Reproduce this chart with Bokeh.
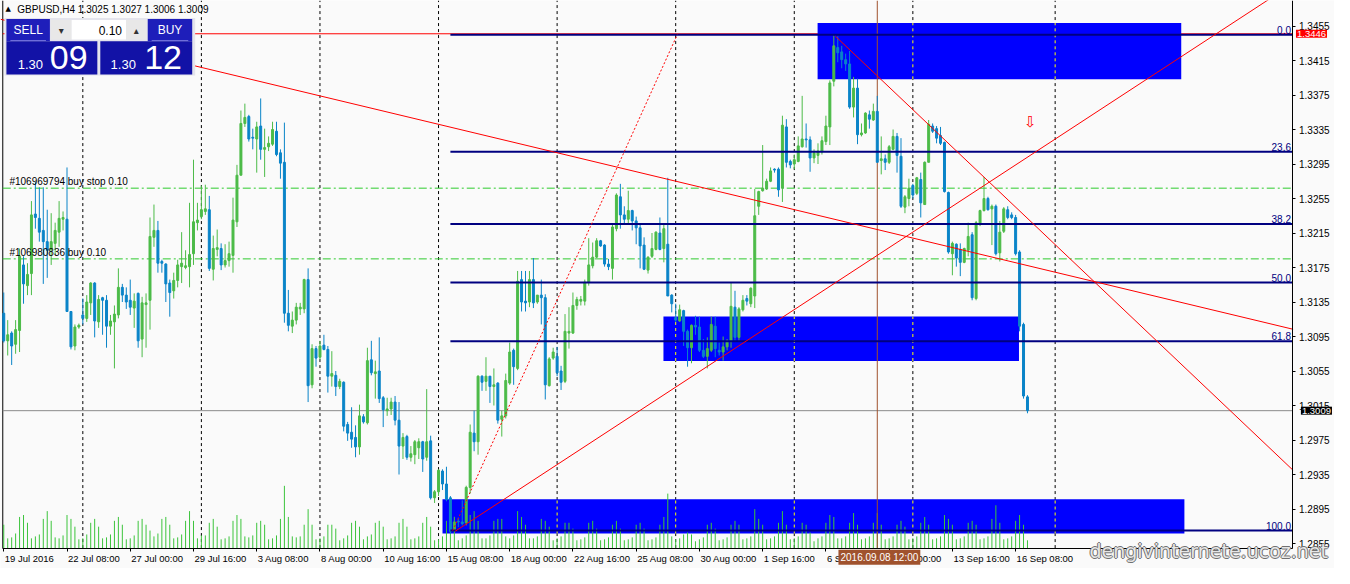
from bokeh.plotting import figure
from bokeh.models import Range1d, FixedTicker, Label, ColumnDataSource, PrintfTickFormatter, LinearAxis
from bokeh.core.properties import value
from bokeh.embed import file_html
from bokeh.resources import INLINE

# ---------------- data (GBPUSD H4, bar index 0 = 19 Jul 2016 16:00) ----------------
opens = [1.3122, 1.3090, 1.3099, 1.3086, 1.3102, 1.3178, 1.3154, 1.3168, 1.3237, 1.3232,
         1.3218, 1.3205, 1.3196, 1.3203, 1.3216, 1.3231, 1.3231, 1.3124, 1.3084, 1.3106,
         1.3120, 1.3116, 1.3134, 1.3157, 1.3112, 1.3140, 1.3137, 1.3107, 1.3112, 1.3120,
         1.3152, 1.3143, 1.3137, 1.3128, 1.3145, 1.3092, 1.3132, 1.3137, 1.3210, 1.3218,
         1.3182, 1.3179, 1.3157, 1.3148, 1.3160, 1.3176, 1.3175, 1.3176, 1.3191, 1.3227,
         1.3234, 1.3240, 1.3242, 1.3173, 1.3196, 1.3197, 1.3178, 1.3183, 1.3189, 1.3228,
         1.3282, 1.3342, 1.3350, 1.3326, 1.3324, 1.3339, 1.3312, 1.3315, 1.3318, 1.3333,
         1.3308, 1.3297, 1.3122, 1.3107, 1.3114, 1.3127, 1.3127, 1.3161, 1.3039, 1.3081,
         1.3071, 1.3085, 1.3080, 1.3049, 1.3050, 1.3037, 1.3042, 1.2993, 1.2984, 1.2978,
         1.2967, 1.3002, 1.2995, 1.3068, 1.3052, 1.3055, 1.3024, 1.3009, 1.3011, 1.3019,
         1.2998, 1.2968, 1.2979, 1.2955, 1.2958, 1.2966, 1.2973, 1.2955, 1.2974, 1.2908,
         1.2915, 1.2939, 1.2924, 1.2908, 1.2870, 1.2881, 1.2880, 1.2879, 1.2920, 1.2983,
         1.2973, 1.3049, 1.3043, 1.3049, 1.3037, 1.3041, 1.2999, 1.3003, 1.3041, 1.3079,
         1.3058, 1.3161, 1.3136, 1.3135, 1.3161, 1.3135, 1.3143, 1.3140, 1.3038, 1.3070,
         1.3072, 1.3055, 1.3043, 1.3099, 1.3099, 1.3131, 1.3136, 1.3136, 1.3158, 1.3177,
         1.3187, 1.3206, 1.3201, 1.3179, 1.3174, 1.3220, 1.3257, 1.3236, 1.3231, 1.3241,
         1.3229, 1.3221, 1.3201, 1.3172, 1.3188, 1.3196, 1.3215, 1.3197, 1.3202, 1.3143,
         1.3117, 1.3113, 1.3125, 1.3101, 1.3082, 1.3108, 1.3106, 1.3079, 1.3072, 1.3079,
         1.3107, 1.3079, 1.3077, 1.3083, 1.3089, 1.3129, 1.3094, 1.3126, 1.3139, 1.3133,
         1.3142, 1.3246, 1.3264, 1.3266, 1.3275, 1.3289, 1.3289, 1.3267, 1.3338, 1.3298,
         1.3295, 1.3298, 1.3315, 1.3324, 1.3323, 1.3302, 1.3305, 1.3309, 1.3321, 1.3338,
         1.3391, 1.3430, 1.3425, 1.3416, 1.3411, 1.3361, 1.3383, 1.3329, 1.3331, 1.3352,
         1.3346, 1.3356, 1.3299, 1.3301, 1.3297, 1.3312, 1.3327, 1.3304, 1.3245, 1.3255,
         1.3270, 1.3261, 1.3277, 1.3248, 1.3297, 1.3339, 1.3336, 1.3328, 1.3320, 1.3262,
         1.3191, 1.3202, 1.3196, 1.3181, 1.3195, 1.3213, 1.3139, 1.3225, 1.3241, 1.3255,
         1.3243, 1.3246, 1.3192, 1.3217, 1.3242, 1.3236, 1.3233, 1.3193, 1.3109, 1.3025]
highs = [1.3146, 1.3114, 1.3101, 1.3114, 1.3197, 1.3188, 1.3180, 1.3252, 1.3274, 1.3268,
         1.3268, 1.3242, 1.3238, 1.3227, 1.3252, 1.3240, 1.3291, 1.3124, 1.3109, 1.3110,
         1.3139, 1.3143, 1.3158, 1.3158, 1.3143, 1.3141, 1.3143, 1.3120, 1.3131, 1.3174,
         1.3156, 1.3152, 1.3161, 1.3145, 1.3146, 1.3141, 1.3145, 1.3233, 1.3248, 1.3229,
         1.3184, 1.3180, 1.3161, 1.3169, 1.3184, 1.3216, 1.3195, 1.3250, 1.3300, 1.3250,
         1.3270, 1.3271, 1.3258, 1.3212, 1.3219, 1.3203, 1.3202, 1.3205, 1.3256, 1.3294,
         1.3357, 1.3365, 1.3352, 1.3336, 1.3344, 1.3371, 1.3336, 1.3327, 1.3344, 1.3344,
         1.3312, 1.3343, 1.3149, 1.3124, 1.3134, 1.3134, 1.3162, 1.3174, 1.3086, 1.3084,
         1.3090, 1.3097, 1.3084, 1.3078, 1.3055, 1.3046, 1.3043, 1.2996, 1.3013, 1.2992,
         1.3016, 1.3005, 1.3082, 1.3090, 1.3067, 1.3094, 1.3026, 1.3024, 1.3024, 1.3026,
         1.3019, 1.2983, 1.2981, 1.2968, 1.2975, 1.2977, 1.2974, 1.3034, 1.2980, 1.2917,
         1.2941, 1.2941, 1.2944, 1.2910, 1.2886, 1.2885, 1.2905, 1.2922, 1.2993, 1.3009,
         1.3050, 1.3050, 1.3071, 1.3049, 1.3058, 1.3042, 1.3009, 1.3052, 1.3088, 1.3081,
         1.3171, 1.3171, 1.3171, 1.3171, 1.3186, 1.3143, 1.3161, 1.3144, 1.3071, 1.3082,
         1.3083, 1.3061, 1.3121, 1.3129, 1.3146, 1.3141, 1.3142, 1.3161, 1.3209, 1.3204,
         1.3209, 1.3207, 1.3202, 1.3185, 1.3225, 1.3261, 1.3272, 1.3246, 1.3264, 1.3242,
         1.3234, 1.3225, 1.3210, 1.3188, 1.3215, 1.3217, 1.3233, 1.3225, 1.3279, 1.3144,
         1.3133, 1.3132, 1.3126, 1.3103, 1.3109, 1.3119, 1.3118, 1.3092, 1.3094, 1.3118,
         1.3118, 1.3088, 1.3095, 1.3092, 1.3158, 1.3148, 1.3129, 1.3143, 1.3143, 1.3152,
         1.3266, 1.3264, 1.3317, 1.3278, 1.3291, 1.3290, 1.3291, 1.3351, 1.3347, 1.3300,
         1.3306, 1.3327, 1.3374, 1.3342, 1.3327, 1.3312, 1.3319, 1.3327, 1.3351, 1.3392,
         1.3444, 1.3443, 1.3432, 1.3423, 1.3426, 1.3396, 1.3394, 1.3342, 1.3355, 1.3357,
         1.3365, 1.3374, 1.3327, 1.3306, 1.3317, 1.3335, 1.3331, 1.3325, 1.3259, 1.3278,
         1.3272, 1.3280, 1.3285, 1.3298, 1.3346, 1.3342, 1.3339, 1.3338, 1.3321, 1.3263,
         1.3205, 1.3203, 1.3203, 1.3198, 1.3227, 1.3216, 1.3229, 1.3242, 1.3280, 1.3257,
         1.3248, 1.3248, 1.3229, 1.3245, 1.3246, 1.3239, 1.3236, 1.3195, 1.3111, 1.3027]
lows = [1.3088, 1.3073, 1.3062, 1.3075, 1.3077, 1.3133, 1.3143, 1.3143, 1.3220, 1.3205,
        1.3156, 1.3163, 1.3178, 1.3190, 1.3199, 1.3218, 1.3124, 1.3080, 1.3079, 1.3104,
        1.3109, 1.3112, 1.3120, 1.3094, 1.3105, 1.3097, 1.3082, 1.3097, 1.3058, 1.3116,
        1.3135, 1.3127, 1.3120, 1.3105, 1.3082, 1.3071, 1.3082, 1.3103, 1.3199, 1.3169,
        1.3169, 1.3135, 1.3118, 1.3139, 1.3152, 1.3157, 1.3173, 1.3152, 1.3178, 1.3218,
        1.3231, 1.3236, 1.3171, 1.3160, 1.3188, 1.3172, 1.3175, 1.3176, 1.3169, 1.3222,
        1.3282, 1.3338, 1.3321, 1.3312, 1.3285, 1.3300, 1.3280, 1.3310, 1.3316, 1.3304,
        1.3278, 1.3111, 1.3101, 1.3099, 1.3109, 1.3120, 1.3122, 1.3019, 1.3035, 1.3060,
        1.3068, 1.3079, 1.3030, 1.3037, 1.3026, 1.3034, 1.2985, 1.2974, 1.2966, 1.2955,
        1.2958, 1.2994, 1.2993, 1.3050, 1.3023, 1.3018, 1.2990, 1.3003, 1.3004, 1.2992,
        1.2935, 1.2953, 1.2952, 1.2950, 1.2947, 1.2953, 1.2938, 1.2951, 1.2906, 1.2902,
        1.2910, 1.2917, 1.2904, 1.2866, 1.2868, 1.2874, 1.2876, 1.2876, 1.2913, 1.2962,
        1.2958, 1.3032, 1.3032, 1.3018, 1.3015, 1.2994, 1.2979, 1.3000, 1.3039, 1.3039,
        1.3056, 1.3124, 1.3124, 1.3129, 1.3128, 1.3133, 1.3109, 1.3022, 1.3037, 1.3068,
        1.3049, 1.3033, 1.3041, 1.3081, 1.3098, 1.3126, 1.3131, 1.3131, 1.3154, 1.3174,
        1.3186, 1.3199, 1.3176, 1.3172, 1.3161, 1.3217, 1.3220, 1.3225, 1.3226, 1.3218,
        1.3202, 1.3174, 1.3172, 1.3168, 1.3186, 1.3195, 1.3195, 1.3181, 1.3142, 1.3123,
        1.3112, 1.3112, 1.3084, 1.3060, 1.3064, 1.3097, 1.3077, 1.3070, 1.3058, 1.3077,
        1.3071, 1.3073, 1.3067, 1.3079, 1.3082, 1.3090, 1.3090, 1.3124, 1.3131, 1.3129,
        1.3128, 1.3236, 1.3263, 1.3265, 1.3274, 1.3285, 1.3257, 1.3251, 1.3291, 1.3290,
        1.3289, 1.3297, 1.3314, 1.3314, 1.3286, 1.3296, 1.3295, 1.3306, 1.3317, 1.3317,
        1.3385, 1.3413, 1.3406, 1.3403, 1.3359, 1.3349, 1.3318, 1.3327, 1.3330, 1.3336,
        1.3345, 1.3297, 1.3283, 1.3288, 1.3295, 1.3311, 1.3285, 1.3244, 1.3238, 1.3246,
        1.3255, 1.3259, 1.3233, 1.3248, 1.3297, 1.3331, 1.3319, 1.3317, 1.3262, 1.3191,
        1.3166, 1.3176, 1.3165, 1.3180, 1.3188, 1.3137, 1.3137, 1.3223, 1.3240, 1.3241,
        1.3201, 1.3189, 1.3182, 1.3215, 1.3231, 1.3231, 1.3189, 1.3101, 1.3023, 1.3006]
closes = [1.3090, 1.3097, 1.3084, 1.3103, 1.3188, 1.3156, 1.3167, 1.3236, 1.3233, 1.3216,
          1.3205, 1.3195, 1.3205, 1.3218, 1.3232, 1.3233, 1.3124, 1.3083, 1.3106, 1.3108,
          1.3116, 1.3135, 1.3157, 1.3113, 1.3138, 1.3137, 1.3107, 1.3113, 1.3121, 1.3152,
          1.3143, 1.3135, 1.3129, 1.3136, 1.3090, 1.3134, 1.3134, 1.3211, 1.3218, 1.3180,
          1.3180, 1.3156, 1.3146, 1.3160, 1.3178, 1.3180, 1.3177, 1.3190, 1.3228, 1.3230,
          1.3242, 1.3243, 1.3174, 1.3197, 1.3198, 1.3178, 1.3183, 1.3191, 1.3230, 1.3282,
          1.3342, 1.3349, 1.3324, 1.3325, 1.3338, 1.3312, 1.3314, 1.3319, 1.3335, 1.3306,
          1.3296, 1.3122, 1.3108, 1.3114, 1.3129, 1.3129, 1.3161, 1.3038, 1.3081, 1.3070,
          1.3084, 1.3080, 1.3049, 1.3052, 1.3037, 1.3043, 1.2991, 1.2983, 1.2976, 1.2967,
          1.3003, 1.2996, 1.3067, 1.3053, 1.3054, 1.3023, 1.3010, 1.3011, 1.3019, 1.2998,
          1.2968, 1.2978, 1.2955, 1.2959, 1.2973, 1.2973, 1.2953, 1.2973, 1.2908, 1.2915,
          1.2940, 1.2924, 1.2906, 1.2869, 1.2880, 1.2880, 1.2878, 1.2920, 1.2984, 1.2973,
          1.3049, 1.3042, 1.3049, 1.3037, 1.3039, 1.2998, 1.3003, 1.3044, 1.3077, 1.3060,
          1.3159, 1.3135, 1.3134, 1.3161, 1.3134, 1.3143, 1.3140, 1.3039, 1.3069, 1.3077,
          1.3053, 1.3042, 1.3101, 1.3101, 1.3131, 1.3138, 1.3138, 1.3158, 1.3178, 1.3187,
          1.3206, 1.3200, 1.3179, 1.3176, 1.3222, 1.3259, 1.3236, 1.3231, 1.3241, 1.3229,
          1.3221, 1.3200, 1.3173, 1.3187, 1.3197, 1.3216, 1.3196, 1.3220, 1.3142, 1.3133,
          1.3114, 1.3126, 1.3101, 1.3082, 1.3108, 1.3106, 1.3079, 1.3072, 1.3081, 1.3109,
          1.3081, 1.3077, 1.3083, 1.3090, 1.3130, 1.3094, 1.3127, 1.3137, 1.3136, 1.3151,
          1.3235, 1.3263, 1.3267, 1.3275, 1.3287, 1.3288, 1.3265, 1.3340, 1.3297, 1.3294,
          1.3300, 1.3316, 1.3324, 1.3323, 1.3302, 1.3308, 1.3310, 1.3322, 1.3339, 1.3389,
          1.3432, 1.3424, 1.3416, 1.3411, 1.3361, 1.3383, 1.3329, 1.3331, 1.3354, 1.3347,
          1.3356, 1.3297, 1.3301, 1.3297, 1.3315, 1.3327, 1.3305, 1.3246, 1.3257, 1.3267,
          1.3259, 1.3279, 1.3250, 1.3297, 1.3341, 1.3333, 1.3325, 1.3319, 1.3263, 1.3193,
          1.3203, 1.3186, 1.3181, 1.3197, 1.3211, 1.3140, 1.3227, 1.3241, 1.3255, 1.3242,
          1.3246, 1.3191, 1.3216, 1.3243, 1.3233, 1.3233, 1.3191, 1.3107, 1.3026, 1.3009]
volumes = [12000, 5000,
           5500, 7500, 16000, 17000, 13000, 5000,
           6000, 7000, 15000, 19000, 14000, 5500,
           5000, 6500, 17000, 15000, 11000, 4500,
           5000, 7000, 13000, 15000, 11000, 5000,
           5500, 7000, 14000, 16000, 12000, 4500,
           5000, 6500, 14000, 15000, 12000, 9000,
           6000, 7500, 15000, 16000, 12000, 5000,
           5500, 7000, 14000, 19000, 14000, 5000,
           6500, 6500, 13000, 15000, 11000, 4500,
           5000, 6000, 14000, 17000, 15000, 6000,
           5500, 6500, 13000, 14000, 12000, 4500,
           5000, 6500, 15000, 32000, 16000, 6000,
           5500, 6000, 12000, 20000, 12000, 4500,
           5000, 6000, 12000, 12000, 10000, 4000,
           5000, 6500, 13000, 14000, 11000, 4500,
           6000, 7000, 13000, 14000, 11000, 4500,
           5000, 6000, 13000, 15000, 11000, 4500,
           5000, 6000, 13000, 16000, 11000, 4000,
           4500, 6000, 14000, 14000, 10000, 4000,
           5000, 6500, 17000, 19000, 14000, 5000,
           5000, 6500, 14000, 15000, 15000, 6000,
           5000, 6500, 19000, 16000, 12000, 5000,
           5000, 6000, 15000, 14000, 11000, 4000,
           5000, 6000, 13000, 13000, 10000, 4000,
           4500, 5500, 13000, 14000, 10000, 4000,
           4500, 5500, 12000, 14000, 10000, 4000,
           4500, 5500, 12000, 13000, 10000, 4000,
           4500, 5500, 12000, 16000, 28000, 6000,
           4500, 5000, 7000, 8000, 7000, 3500,
           4500, 5500, 12000, 13000, 10000, 4000,
           4500, 5500, 12000, 14000, 12000, 4500,
           5000, 6000, 20000, 15000, 12000, 4500,
           5000, 6000, 13000, 19000, 12000, 4500,
           5000, 6000, 13000, 12000, 8000, 3500,
           5000, 6000, 13000, 17000, 16000, 5000,
           5000, 6000, 13000, 18000, 12000, 4500,
           5000, 6000, 13000, 18000, 12000, 4500,
           5000, 6000, 12000, 14000, 11000, 4500,
           5000, 6000, 13000, 16000, 12000, 4500,
           5000, 6000, 17000, 15000, 12000, 4500,
           5000, 6000, 13000, 14000, 12000, 4500,
           5000, 6000, 15000, 22000, 13000, 4500,
           5000, 6000, 14000, 17000, 12000, 4000]

date_tick_bars = [0, 16, 32, 48, 64, 80, 96, 112, 128, 144, 160, 176, 192, 208, 224, 240, 256]
date_labels = ["19 Jul 2016", "22 Jul 08:00", "27 Jul 00:00", "29 Jul 16:00", "3 Aug 08:00",
               "8 Aug 00:00", "10 Aug 16:00", "15 Aug 08:00", "18 Aug 00:00", "22 Aug 16:00",
               "25 Aug 08:00", "30 Aug 00:00", "1 Sep 16:00", "6 Sep 08:00", "9 Sep 00:00",
               "13 Sep 16:00", "16 Sep 08:00"]
price_ticks = [1.2855, 1.2895, 1.2935, 1.2975, 1.3015, 1.3055, 1.3095, 1.3135, 1.3175,
               1.3215, 1.3255, 1.3295, 1.3335, 1.3375, 1.3415, 1.3455]

grid_bars = [20, 50, 80, 110, 140, 170, 200, 230, 266]

# Fibonacci retracement (anchors: 15 Aug low -> high level)
fib_levels = [0.0, 23.6, 38.2, 50.0, 61.8, 100.0]
fib_labels = ["0.0", "23.6", "38.2", "50.0", "61.8", "100.0"]
fib_high = 1.3445
fib_low = 1.2870
fib_start_bar = 113
fib_anchor_bars = [113.6, 170.4]

# rectangles (bar left/right, price top/bottom)
rect_left = [205.9, 166.9, 111.0]
rect_right = [297.9, 256.85, 298.7]
rect_top = [1.34586, 1.31181, 1.29064]
rect_bottom = [1.33932, 1.30666, 1.28666]

# trend lines (bar, price)
trend_x0 = [-0.8, 114.2, 210.4]
trend_y0 = [1.34628, 1.28692, 1.34432]
trend_x1 = [326.2, 330.0, 326.2]
trend_y1 = [1.31034, 1.35156, 1.29399]

hline_price = 1.3446
bid_price = 1.3009
order_prices = [1.3267, 1.3185]
order_labels = ["#106969794 buy stop 0.10", "#106980836 buy 0.10"]
vline_bar = 221
arrow_bar = 259.7
arrow_price = 1.33436


# ---------------- layout helpers (reference-window pixels -> data coords) ----------------
def bx(px):
    return (px - 3.3) / 4.0


def py(yy):
    return 1.3415 - (yy - 61.7) / 8868.0


XL, XR = bx(2.3), bx(1308)      # chart area left/right
YB, YT = py(563), py(0)         # chart area bottom/top
FONT = "Liberation Sans"
W, H = 1334, 568

p = figure(width=W, height=H, x_range=Range1d(bx(0), bx(1350)), y_range=Range1d(py(584), py(0)),
           output_backend="svg", toolbar_location=None, y_axis_location="right",
           min_border_left=0, min_border_right=0, min_border_top=0, min_border_bottom=0,
           background_fill_color="#FAFAFA", border_fill_color="#FAFAFA", outline_line_color=None)
p.xgrid.visible = False
p.ygrid.visible = False

# price axis (right)
ya = p.yaxis[0]
ya.fixed_location = XR
ya.bounds = (YB, YT)
ya.ticker = FixedTicker(ticks=price_ticks)
ya.formatter = PrintfTickFormatter(format="%.4f")
ya.major_label_text_font = FONT
ya.major_label_text_font_size = "10px"
ya.major_label_text_color = "black"
ya.major_tick_out = 3
ya.major_tick_in = 0
ya.minor_tick_line_color = None
ya.major_label_standoff = 3
ya.axis_line_color = "black"

# time axis (below): ticks
xa = p.xaxis[0]
xa.fixed_location = YB
xa.bounds = (XL, XR)
xa.ticker = FixedTicker(ticks=date_tick_bars)
xa.major_label_overrides = {b: "" for b in date_tick_bars}
xa.major_tick_out = 3
xa.major_tick_in = 0
xa.minor_tick_line_color = None
xa.axis_line_color = "black"

# time axis labels, left-aligned at their ticks (MT4 style)
CW = {c: 0.556 for c in "0123456789"}
CW.update({" ": 0.278, ":": 0.278, ".": 0.278, "J": 0.5, "u": 0.556, "l": 0.222,
           "A": 0.667, "g": 0.556, "S": 0.667, "e": 0.556, "p": 0.556})
LABEL_FS = 9.5


def text_w(s, fs):
    return sum(CW.get(ch, 0.556) for ch in s) * fs


px_per_bar = W / (bx(1350) - bx(0))
label_ticks = [round(b + (text_w(l, LABEL_FS) / 2 + 1) / px_per_bar, 4) for b, l in zip(date_tick_bars, date_labels)]
lab_axis = LinearAxis(ticker=FixedTicker(ticks=label_ticks),
                      major_label_overrides={t: l for t, l in zip(label_ticks, date_labels)},
                      fixed_location=YB, axis_line_color=None, major_tick_line_color=None,
                      minor_tick_line_color=None, major_tick_out=3, major_tick_in=0,
                      major_label_standoff=2, major_label_text_font=FONT,
                      major_label_text_font_size=f"{LABEL_FS}px", major_label_text_color="black")
p.add_layout(lab_axis, "below")

# chart left border
p.segment(x0=[XL], y0=[YB], x1=[XL], y1=[YT], line_color="black", line_width=1)

# vertical dashed grid
p.segment(x0=grid_bars, y0=[YB] * len(grid_bars), x1=grid_bars, y1=[YT] * len(grid_bars),
          line_color="black", line_width=1, line_dash="3 3")

# red horizontal line, order lines, bid line
p.segment(x0=[XL], y0=[hline_price], x1=[XR], y1=[hline_price], line_color="red", line_width=1)
p.segment(x0=[XL] * 2, y0=order_prices, x1=[XR] * 2, y1=order_prices, line_color="#2DCB2D",
          line_width=1, line_dash="8 3 2 3")
p.segment(x0=[XL], y0=[bid_price], x1=[XR], y1=[bid_price], line_color="#8A8A8A", line_width=1)

# rectangles
p.quad(left=rect_left, right=rect_right, top=rect_top, bottom=rect_bottom,
       fill_color="#0000FF", line_color=None)
ys0, ys1, xs = [], [], []
for b in grid_bars:
    for l, r, t, bt in zip(rect_left, rect_right, rect_top, rect_bottom):
        if l <= b <= r:
            xs.append(b); ys0.append(bt); ys1.append(t)
p.segment(x0=xs, y0=ys0, x1=xs, y1=ys1, line_color="#FFFF00", line_width=1, line_dash="3 3")

# volumes (own scale: 0 at the chart bottom)
bars = list(range(len(opens)))
p.extra_y_ranges = {"vol": Range1d(-10500, 281500)}
p.segment(x0=bars, y0=[0] * len(bars), x1=bars, y1=volumes, y_range_name="vol",
          line_color="#3CC43C", line_width=1)

# vertical line object
p.segment(x0=[vline_bar], y0=[YB], x1=[vline_bar], y1=[YT], line_color="#A0522D", line_width=1)

# candles
BULL, BEAR = "#4CBB48", "#0A84C8"
colors = [BULL if c >= o else BEAR for o, c in zip(opens, closes)]
src = ColumnDataSource(dict(x=bars, o=opens, h=highs, l=lows, c=closes, col=colors,
                            top=[max(o, c) for o, c in zip(opens, closes)],
                            bot=[min(o, c) for o, c in zip(opens, closes)]))
p.segment(x0="x", y0="l", x1="x", y1="h", line_color="col", line_width=1, source=src)
p.vbar(x="x", width=0.5, top="top", bottom="bot", fill_color="col", line_color="col",
       line_width=1, source=src)

# fibonacci lines + its anchor diagonal (dotted)
fib_prices = [fib_high - (fib_high - fib_low) * lv / 100.0 for lv in fib_levels]
p.segment(x0=[fib_start_bar] * len(fib_prices), y0=fib_prices, x1=[XR] * len(fib_prices), y1=fib_prices,
          line_color="#000080", line_width=2)
p.text(x=[bx(1306)] * len(fib_prices), y=fib_prices, text=fib_labels, text_align="right",
       text_baseline="bottom", y_offset=-1, text_color="#000080",
       text_font=value(FONT), text_font_size="10px")
p.line(x=fib_anchor_bars, y=[fib_low, fib_high], line_color="red", line_width=1, line_dash="2 2")

# trend lines
p.segment(x0=trend_x0, y0=trend_y0, x1=trend_x1, y1=trend_y1, line_color="red", line_width=1)

# order labels
p.text(x=[bx(9)] * 2, y=order_prices, text=order_labels, text_align="left", text_baseline="bottom",
       y_offset=-1, text_color="black", text_font=value(FONT), text_font_size="10px")

# sell arrow
p.text(x=[arrow_bar], y=[arrow_price], text=["\u21e9"], text_align="center", text_baseline="middle",
       text_color="red", text_font=value("DejaVu Sans"), text_font_size="15px")

# ---------------- one-click trading panel ----------------
boxes = [
    (4, 197, 18, 77, "#E4E4EC"),
    (6, 50, 19, 42, "#1E1EBA"),
    (51, 72, 20, 40, "#E8E8E8"),
    (72, 127, 20, 40, "#FFFFFF"),
    (127, 148, 20, 40, "#E8E8E8"),
    (149, 194, 19, 42, "#1E1EBA"),
    (6, 98, 42, 76, "#1212A6"),
    (101, 194, 42, 76, "#1212A6"),
    (10, 46, 40.5, 41.5, "#8A8AE6"),
    (153, 190, 40.5, 41.5, "#8A8AE6"),
]
p.quad(left=[bx(b[0]) for b in boxes], right=[bx(b[1]) for b in boxes],
       top=[py(b[2]) for b in boxes], bottom=[py(b[3]) for b in boxes],
       fill_color=[b[4] for b in boxes], line_color=None)

texts = [
    (28, 30.5, "SELL", "#FFFFFF", "12px", "center"),
    (171.5, 30.5, "BUY", "#FFFFFF", "12px", "center"),
    (61.5, 30.5, "\u25be", "#333333", "10px", "center"),
    (137.5, 30.5, "\u25b4", "#333333", "10px", "center"),
    (123, 30.5, "0.10", "#000000", "12px", "right"),
    (43, 66, "1.30", "#FFFFFF", "13px", "right"),
    (137, 66, "1.30", "#FFFFFF", "13px", "right"),
    (69, 58.5, "09", "#FFFFFF", "34px", "center"),
    (164.5, 58.5, "12", "#FFFFFF", "34px", "center"),
    (5, 9, "\u25b2", "#000000", "7px", "left"),
    (17, 9.5, "GBPUSD,H4  1.3025 1.3027 1.3006 1.3009", "#000000", "10px", "left"),
]
for (tx, ty, tt, tc, ts, ta) in texts:
    p.text(x=[bx(tx)], y=[py(ty)], text=[tt], text_color=tc, text_font_size=ts, text_align=ta,
           text_baseline="middle",
           text_font=value("DejaVu Sans" if tt in ("\u25be", "\u25b4", "\u25b2") else FONT))

# ---------------- axis-area labels ----------------
p.add_layout(Label(x=bx(1311), y=hline_price, text="1.3446", text_baseline="middle", text_align="left",
                   text_color="white", background_fill_color="#FF0000", text_font=FONT,
                   text_font_size="9.5px", padding=1))
p.add_layout(Label(x=bx(1316), y=bid_price, text="1.3009", text_baseline="middle", text_align="left",
                   text_color="white", background_fill_color="black", text_font=FONT,
                   text_font_size="9.5px", padding=1))
p.add_layout(Label(x=bx(848), y=py(572.5), text="2016.09.08 12:00", text_baseline="middle",
                   text_align="left", text_color="white", background_fill_color="#A0522D",
                   text_font=FONT, text_font_size="10px", padding=2))
# watermark (outlined grey text)
WM_X, WM_Y = bx(1102), py(566)
for dx, dy in [(-1, 0), (1, 0), (0, -1), (0, 1)]:
    p.add_layout(Label(x=WM_X, y=WM_Y, x_offset=dx, y_offset=dy, text="dengivinternete.ucoz.net",
                       text_baseline="alphabetic", text_align="left", text_color="#707070",
                       text_font="DejaVu Sans", text_font_size="19px"))
p.add_layout(Label(x=WM_X, y=WM_Y, text="dengivinternete.ucoz.net",
                   text_baseline="alphabetic", text_align="left", text_color="#E6E6E6",
                   text_font="DejaVu Sans", text_font_size="19px"))

open("out.html", "w").write(file_html(p, INLINE))
